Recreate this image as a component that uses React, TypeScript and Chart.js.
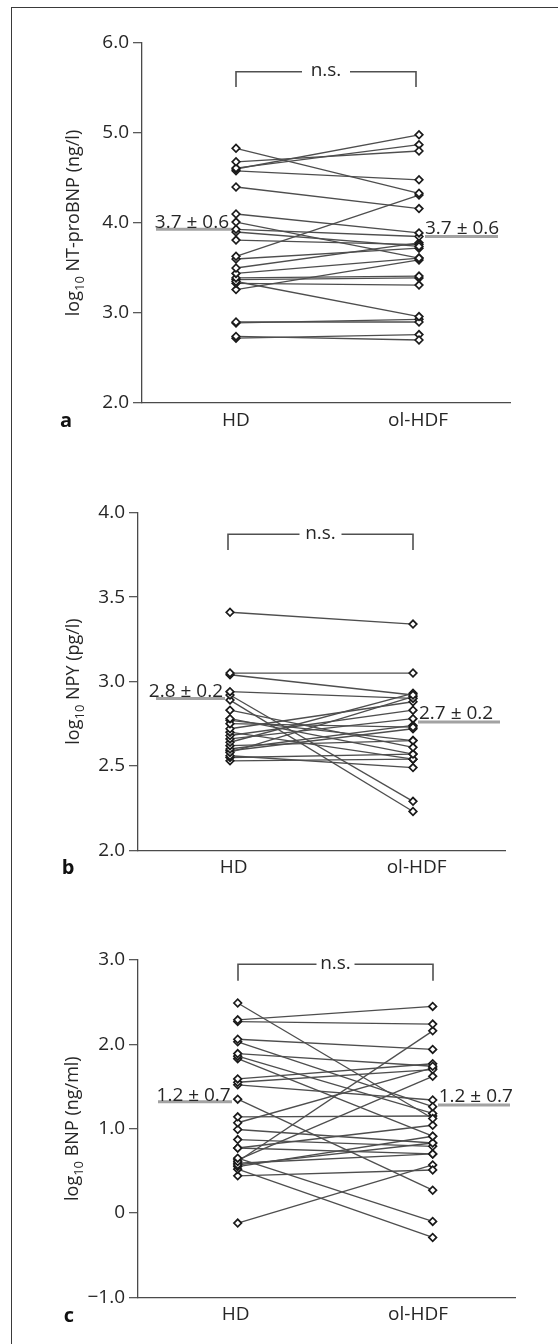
import React, { useEffect, useRef } from 'react';
import { Chart, registerables } from 'chart.js';

Chart.register(...registerables);

// ---------- data ----------
const categories = ['HD', 'ol-HDF'];

// Panel a: log10 NT-proBNP (ng/l)
const ntProBnpHD = [4.83, 4.68, 4.61, 4.60, 4.58, 4.40, 4.10, 4.01, 3.93, 3.90, 3.81, 3.63, 3.60, 3.50, 3.44, 3.39, 3.35, 3.33, 3.26, 2.90, 2.89, 2.74, 2.72, 3.37];
const ntProBnpOL = [4.33, 4.80, 4.87, 4.98, 4.48, 4.16, 3.89, 3.61, 3.85, 3.74, 3.76, 4.31, 3.72, 3.78, 3.61, 3.41, 2.96, 3.31, 3.59, 2.90, 2.93, 2.70, 2.76, 3.39];
const ntProBnpMean = [3.93, 3.85];
const ntProBnpMeanLabels = ['3.7 ± 0.6', '3.7 ± 0.6'];
const ntProBnpTicks = [2, 3, 4, 5, 6];
const ntProBnpTickLabels = ['2.0', '3.0', '4.0', '5.0', '6.0'];

// Panel b: log10 NPY (pg/l)
const npyHD = [3.41, 3.05, 3.04, 2.94, 2.92, 2.89, 2.83, 2.78, 2.75, 2.72, 2.70, 2.68, 2.66, 2.64, 2.62, 2.60, 2.58, 2.56, 2.55, 2.53, 2.77, 2.59];
const npyOL = [3.34, 3.05, 2.92, 2.90, 2.29, 2.23, 2.61, 2.57, 2.73, 2.88, 2.54, 2.83, 2.78, 2.93, 2.65, 2.74, 2.91, 2.49, 2.57, 2.54, 2.65, 2.72];
const npyMean = [2.90, 2.76];
const npyMeanLabels = ['2.8 ± 0.2', '2.7 ± 0.2'];
const npyTicks = [2, 2.5, 3, 3.5, 4];
const npyTickLabels = ['2.0', '2.5', '3.0', '3.5', '4.0'];

// Panel c: log10 BNP (ng/ml)
const bnpHD = [2.49, 2.29, 2.27, 2.06, 2.03, 1.89, 1.86, 1.83, 1.59, 1.55, 1.52, 1.35, 1.14, 1.07, 0.99, 0.87, 0.77, 0.65, 0.61, 0.63, 0.57, 0.55, 0.52, 0.44, -0.12, 0.77, 0.59];
const bnpOL = [1.12, 2.45, 2.24, 1.94, 1.26, 1.74, 1.18, 0.91, 1.77, 1.70, 1.34, 0.27, 1.15, 1.72, 0.83, 0.79, 0.70, -0.10, 2.16, 1.62, 0.83, 0.91, -0.29, 0.51, 0.57, 1.04, 0.70];
const bnpMean = [1.32, 1.28];
const bnpMeanLabels = ['1.2 ± 0.7', '1.2 ± 0.7'];
const bnpTicks = [-1, 0, 1, 2, 3];
const bnpTickLabels = ['\u22121.0', '0', '1.0', '2.0', '3.0'];

// ---------- layout / style ----------
const W = 558;
const FONT = '"Open Sans", "Noto Sans", sans-serif';
const TXT = '#262626';
const AXIS = '#4a4a4a';

type Panel = {
  hd: number[]; ol: number[]; mean: number[]; meanLabels: string[];
  ticks: number[]; tickLabels: string[];
  titleMain: string; titleRest: string; letter: string;
  canvasTop: number; canvasH: number; axisX: number; plotTop: number; plotBottom: number; plotRight: number;
  hdX: number; olX: number; xLabelVals: number[];
  bracketTop: number; bracketBottom: number; bracketGap: number; bracketL: number; bracketR: number;
  titleX: number; letterX: number; letterY: number;
  leftMean: [number, number]; rightMean: [number, number];
};

const panels: Panel[] = [
  {
    hd: ntProBnpHD, ol: ntProBnpOL, mean: ntProBnpMean, meanLabels: ntProBnpMeanLabels,
    ticks: ntProBnpTicks, tickLabels: ntProBnpTickLabels,
    titleMain: 'log', titleRest: ' NT-proBNP (ng/l)', letter: 'a',
    canvasTop: 0, canvasH: 450, axisX: 142, plotTop: 43, plotBottom: 403, plotRight: 510,
    hdX: 236, olX: 419, xLabelVals: [0, 0.995],
    bracketTop: 71.7, bracketBottom: 87, bracketGap: 24, bracketL: 236, bracketR: 416,
    titleX: 73, letterX: 66, letterY: 421,
    leftMean: [156, 232], rightMean: [425, 498],
  },
  {
    hd: npyHD, ol: npyOL, mean: npyMean, meanLabels: npyMeanLabels,
    ticks: npyTicks, tickLabels: npyTickLabels,
    titleMain: 'log', titleRest: ' NPY (pg/l)', letter: 'b',
    canvasTop: 450, canvasH: 440, axisX: 138, plotTop: 512.7, plotBottom: 850.3, plotRight: 505,
    hdX: 230, olX: 413, xLabelVals: [0.02, 1.02],
    bracketTop: 534.3, bracketBottom: 550, bracketGap: 21, bracketL: 228, bracketR: 413,
    titleX: 73, letterX: 68, letterY: 868,
    leftMean: [156, 225], rightMean: [418, 500],
  },
  {
    hd: bnpHD, ol: bnpOL, mean: bnpMean, meanLabels: bnpMeanLabels,
    ticks: bnpTicks, tickLabels: bnpTickLabels,
    titleMain: 'log', titleRest: ' BNP (ng/ml)', letter: 'c',
    canvasTop: 890, canvasH: 454, axisX: 138, plotTop: 960, plotBottom: 1297.3, plotRight: 515,
    hdX: 237.7, olX: 432.7, xLabelVals: [-0.01, 0.925],
    bracketTop: 964.3, bracketBottom: 980.7, bracketGap: 19, bracketL: 238, bracketR: 433,
    titleX: 72, letterX: 69, letterY: 1316,
    leftMean: [158, 232], rightMean: [438, 510],
  },
];

function makeChart(canvas: HTMLCanvasElement, p: Panel) {
  const ppu = p.olX - p.hdX;
  const xMin = -(p.hdX - p.axisX) / ppu;
  const xMax = 1 + (p.plotRight - p.olX) / ppu;
  const top = p.canvasTop;

  const datasets = p.hd.map((v, i) => ({
    data: [{ x: 0, y: v }, { x: 1, y: p.ol[i] }],
    showLine: true,
    borderColor: '#4e4e4e',
    borderWidth: 1.35,
    pointStyle: 'rectRot',
    pointRadius: 3.8,
    pointBackgroundColor: '#ffffff',
    pointBorderColor: '#1a1a1a',
    pointBorderWidth: 1.7,
    tension: 0,
  }));

  const annot = {
    id: 'annot',
    beforeDatasetsDraw(chart: any) {
      const { ctx } = chart;
      const y = chart.scales.y;
      ctx.save();
      // mean lines
      ctx.strokeStyle = '#a2a2a2';
      ctx.lineWidth = 3;
      const yl = y.getPixelForValue(p.mean[0]);
      const yr = y.getPixelForValue(p.mean[1]);
      ctx.beginPath();
      ctx.moveTo(p.leftMean[0], yl); ctx.lineTo(p.leftMean[1], yl);
      ctx.moveTo(p.rightMean[0], yr); ctx.lineTo(p.rightMean[1], yr);
      ctx.stroke();
      ctx.fillStyle = TXT;
      ctx.font = `19px ${FONT}`;
      ctx.textBaseline = 'alphabetic';
      ctx.textAlign = 'right';
      ctx.fillText(p.meanLabels[0], p.hdX - 7, yl - 1);
      ctx.textAlign = 'left';
      ctx.fillText(p.meanLabels[1], p.olX + 6, yr - 3);
      ctx.restore();
    },
    afterDraw(chart: any) {
      const { ctx } = chart;
      ctx.save();
      // bracket
      const bt = p.bracketTop - top;
      const bb = p.bracketBottom - top;
      const mid = (p.bracketL + p.bracketR) / 2;
      ctx.strokeStyle = '#505050';
      ctx.lineWidth = 1.6;
      ctx.beginPath();
      ctx.moveTo(p.bracketL, bb); ctx.lineTo(p.bracketL, bt); ctx.lineTo(mid - p.bracketGap, bt);
      ctx.moveTo(mid + p.bracketGap, bt); ctx.lineTo(p.bracketR, bt); ctx.lineTo(p.bracketR, bb);
      ctx.stroke();
      ctx.fillStyle = TXT;
      ctx.font = `19px ${FONT}`;
      ctx.textAlign = 'center';
      ctx.textBaseline = 'middle';
      ctx.fillText('n.s.', mid, bt - 1);
      // y axis title with subscript
      const area = chart.chartArea;
      const cy = (area.top + area.bottom) / 2;
      ctx.translate(p.titleX, cy);
      ctx.rotate(-Math.PI / 2);
      const mainFont = `18px ${FONT}`;
      const subFont = `13px ${FONT}`;
      ctx.font = mainFont;
      const w1 = ctx.measureText(p.titleMain).width;
      const w3 = ctx.measureText(p.titleRest).width;
      ctx.font = subFont;
      const w2 = ctx.measureText('10').width;
      let x0 = -(w1 + w2 + w3) / 2;
      ctx.textAlign = 'left';
      ctx.textBaseline = 'alphabetic';
      const base = 6;
      ctx.font = mainFont;
      ctx.fillText(p.titleMain, x0, base);
      x0 += w1;
      ctx.font = subFont;
      ctx.fillText('10', x0, base + 5);
      x0 += w2;
      ctx.font = mainFont;
      ctx.fillText(p.titleRest, x0, base);
      ctx.restore();
      // panel letter
      ctx.save();
      ctx.fillStyle = '#111';
      ctx.font = `bold 20px ${FONT}`;
      ctx.textAlign = 'center';
      ctx.textBaseline = 'middle';
      ctx.fillText(p.letter, p.letterX, p.letterY - top);
      ctx.restore();
    },
  };

  return new Chart(canvas, {
    type: 'scatter',
    data: { datasets: datasets as any },
    plugins: [annot],
    options: {
      animation: false,
      responsive: false,
      devicePixelRatio: 1,
      layout: { padding: { left: 0, top: p.plotTop - top, right: W - p.plotRight, bottom: 0 } },
      plugins: { legend: { display: false }, tooltip: { enabled: false } },
      scales: {
        x: {
          type: 'linear',
          min: xMin,
          max: xMax,
          bounds: 'data',
          afterBuildTicks: (s: any) => { s.ticks = p.xLabelVals.map((v) => ({ value: v })); },
          afterFit: (s: any) => { s.height = top + p.canvasH - p.plotBottom; },
          ticks: {
            autoSkip: false,
            maxRotation: 0,
            padding: 6,
            color: TXT,
            font: { family: FONT, size: 19 },
            callback: (_v: any, i: number) => categories[i],
          },
          grid: { display: false, drawTicks: false },
          border: { display: true, color: AXIS, width: 1.3 },
        },
        y: {
          type: 'linear',
          min: p.ticks[0],
          max: p.ticks[p.ticks.length - 1],
          afterBuildTicks: (s: any) => { s.ticks = p.ticks.map((v) => ({ value: v })); },
          afterFit: (s: any) => { s.width = p.axisX; },
          ticks: {
            autoSkip: false,
            padding: 4,
            color: TXT,
            font: { family: FONT, size: 19 },
            callback: (_v: any, i: number) => p.tickLabels[i],
          },
          grid: { drawOnChartArea: false, drawTicks: true, tickLength: 9, color: '#5a5a5a', lineWidth: 1.3 },
          border: { display: true, color: AXIS, width: 1.3 },
        },
      },
    } as any,
  });
}

function PanelChart({ p }: { p: Panel }) {
  const ref = useRef<HTMLCanvasElement | null>(null);
  useEffect(() => {
    if (!ref.current) return;
    const c = makeChart(ref.current, p);
    return () => c.destroy();
  }, [p]);
  return (
    <canvas
      ref={ref}
      width={W}
      height={p.canvasH}
      style={{ position: 'absolute', left: 0, top: p.canvasTop, width: W, height: p.canvasH, display: 'block' }}
    />
  );
}

export default function App() {
  return (
    <div style={{ position: 'absolute', left: 0, top: 0, width: W, height: 1344, background: '#fff', overflow: 'hidden' }}>
      <div
        style={{
          position: 'absolute', left: 11, top: 7, width: W - 11 + 4, height: 1344,
          borderLeft: '1.5px solid #3a3a3a', borderTop: '1.5px solid #3a3a3a', boxSizing: 'border-box',
        }}
      />
      {panels.map((p, i) => <PanelChart key={i} p={p} />)}
    </div>
  );
}
